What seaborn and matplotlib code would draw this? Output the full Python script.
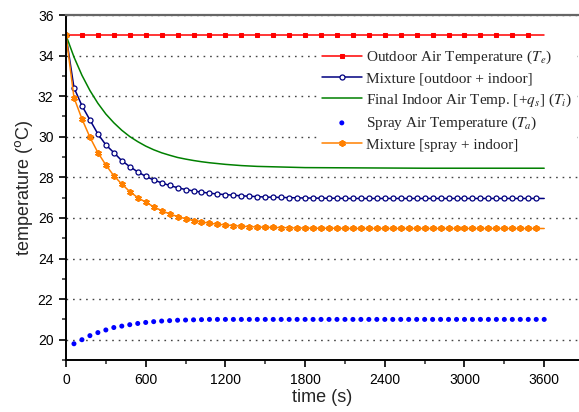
import numpy as np
import pandas as pd
import matplotlib
matplotlib.use("Agg")
import matplotlib.pyplot as plt
from matplotlib.ticker import MultipleLocator
import seaborn as sns

# ---- data -------------------------------------------------------------
# time grid (s) for the sampled series
t_60 = np.arange(0, 3601, 60)
t_120 = np.arange(0, 3601, 120)
t_spray = np.arange(60, 3601, 60)

outdoor = [35.0] * len(t_120)

mix_outdoor = [
    35.00, 32.42, 31.53, 30.83, 30.14, 29.60, 29.22, 28.82, 28.53, 28.27,
    28.05, 27.87, 27.73, 27.60, 27.49, 27.40, 27.33, 27.27, 27.22, 27.18,
    27.15, 27.12, 27.09, 27.07, 27.05, 27.03, 27.02, 27.01, 27.00, 26.99,
    26.98, 26.98, 26.97, 26.97, 26.97, 26.96, 26.96, 26.96, 26.96, 26.96,
    26.96, 26.96, 26.96, 26.96, 26.96, 26.96, 26.96, 26.96, 26.96, 26.96,
    26.96, 26.96, 26.96, 26.96, 26.96, 26.96, 26.96, 26.96, 26.96, 26.96,
    26.96,
]

t_indoor = [
    0, 60, 120, 180, 240, 300, 360, 420, 480, 540, 600, 660, 720, 780, 840,
    900, 960, 1020, 1080, 1140, 1200, 1260, 1320, 1380, 1440, 1500, 1560,
    1620, 1680, 1740, 1800, 2100, 2400, 2700, 3000, 3300, 3600,
]
final_indoor = [
    35.00, 33.93, 33.03, 32.28, 31.65, 31.12, 30.69, 30.32, 30.01, 29.76,
    29.54, 29.36, 29.21, 29.09, 28.98, 28.90, 28.83, 28.77, 28.72, 28.68,
    28.64, 28.61, 28.58, 28.56, 28.54, 28.53, 28.52, 28.51, 28.50, 28.49,
    28.48, 28.47, 28.46, 28.45, 28.45, 28.45, 28.45,
]

spray = [
    19.80, 20.00, 20.20, 20.35, 20.48, 20.60, 20.67, 20.74, 20.80, 20.85,
    20.89, 20.92, 20.94, 20.96, 20.97, 20.98, 20.99, 21.00, 21.00, 21.00,
    21.00, 21.00, 21.00, 21.00, 21.00, 21.00, 21.00, 21.00, 21.00, 21.00,
    21.00, 21.00, 21.00, 21.00, 21.00, 21.00, 21.00, 21.00, 21.00, 21.00,
    21.00, 21.00, 21.00, 21.00, 21.00, 21.00, 21.00, 21.00, 21.00, 21.00,
    21.00, 21.00, 21.00, 21.00, 21.00, 21.00, 21.00, 21.00, 21.00, 21.00,
]

mix_spray = [
    35.00, 31.93, 30.88, 29.98, 29.22, 28.61, 28.08, 27.67, 27.30, 27.00,
    26.78, 26.55, 26.36, 26.20, 26.07, 25.96, 25.87, 25.80, 25.74, 25.69,
    25.65, 25.62, 25.59, 25.57, 25.55, 25.54, 25.53, 25.52, 25.51, 25.50,
    25.50, 25.49, 25.49, 25.49, 25.49, 25.48, 25.48, 25.48, 25.48, 25.48,
    25.48, 25.48, 25.48, 25.48, 25.48, 25.48, 25.48, 25.48, 25.48, 25.48,
    25.48, 25.48, 25.48, 25.48, 25.48, 25.48, 25.48, 25.48, 25.48, 25.48,
    25.48,
]

labels = [
    r"Outdoor Air Temperature ($T_e$)",
    r"Mixture [outdoor + indoor]",
    r"Final Indoor Air Temp. [+$q_s$] ($T_i$)",
    r"Spray Air Temperature ($T_a$)",
    r"Mixture [spray + indoor]",
]

# ---- style ------------------------------------------------------------
sns.set_theme(style="ticks")
plt.rcParams["font.family"] = ["Liberation Sans", "DejaVu Sans"]
plt.rcParams["axes.linewidth"] = 1.4

fig = plt.figure(figsize=(5.79, 4.12), dpi=100)
ax = fig.add_axes([66 / 579, 1 - 360 / 412, 1 - 66 / 579, (360 - 15) / 412])

lw = 1.1
sns.lineplot(x=t_120, y=outdoor, ax=ax, color="#ff0000", linewidth=lw,
             marker="s", markersize=3.2, markeredgecolor="#ff0000",
             markerfacecolor="#ff0000", markevery=slice(0, -1),
             sort=False, label=labels[0])
sns.lineplot(x=t_60, y=mix_outdoor, ax=ax, color="#000080", linewidth=lw,
             marker="o", markersize=3.6, markeredgecolor="#000080",
             markerfacecolor="white", markeredgewidth=0.9,
             markevery=slice(0, -1), sort=False, label=labels[1])
sns.lineplot(x=t_indoor, y=final_indoor, ax=ax, color="#008000",
             linewidth=lw, sort=False, label=labels[2])
sns.scatterplot(x=t_spray, y=spray, ax=ax, color="#0000ff", s=13,
                edgecolor="none", label=labels[3])
sns.lineplot(x=t_60, y=mix_spray, ax=ax, color="#ff8000", linewidth=lw,
             marker=(6, 2, 0), markersize=4.8, markeredgecolor="#ff8000",
             markerfacecolor="#ff8000", markeredgewidth=1.3,
             markevery=slice(0, -1), sort=False, label=labels[4])

# ---- axes -------------------------------------------------------------
ax.set_xlim(0, 3862)
ax.set_ylim(19, 36)
ax.set_xticks(np.arange(0, 3601, 600))
ax.xaxis.set_minor_locator(MultipleLocator(300))
ax.yaxis.set_major_locator(MultipleLocator(2))
ax.yaxis.set_minor_locator(MultipleLocator(1))
ax.tick_params(which="major", direction="out", length=5, width=1.2,
               labelsize=10, colors="black", pad=4)
ax.tick_params(which="minor", direction="out", length=3, width=1.1)
ax.yaxis.grid(True, which="major", color="#444444", linewidth=1.0,
              linestyle=(0, (1.2, 3.5)))
ax.xaxis.grid(False)

ax.spines["right"].set_visible(False)
ax.spines["top"].set_color("#666666")
ax.spines["top"].set_linewidth(1.6)
for side in ("left", "bottom"):
    ax.spines[side].set_color("black")

ax.set_xlabel("time (s)", fontsize=13, labelpad=2)
ax.set_ylabel(r"temperature ($^{\mathrm{o}}$C)", fontsize=13, labelpad=2)

leg = ax.legend(loc="upper left", bbox_to_anchor=(0.49, 0.915),
                borderaxespad=0, prop={"family": "Liberation Serif",
                                       "size": 11},
                frameon=True, framealpha=1, edgecolor="white",
                fancybox=False, handlelength=2.6, handletextpad=0.3,
                labelspacing=0.38, borderpad=0.3)
leg.get_frame().set_linewidth(0)
for txt in leg.get_texts():
    txt.set_math_fontfamily("stix")

fig.savefig("out.png", dpi=100)
